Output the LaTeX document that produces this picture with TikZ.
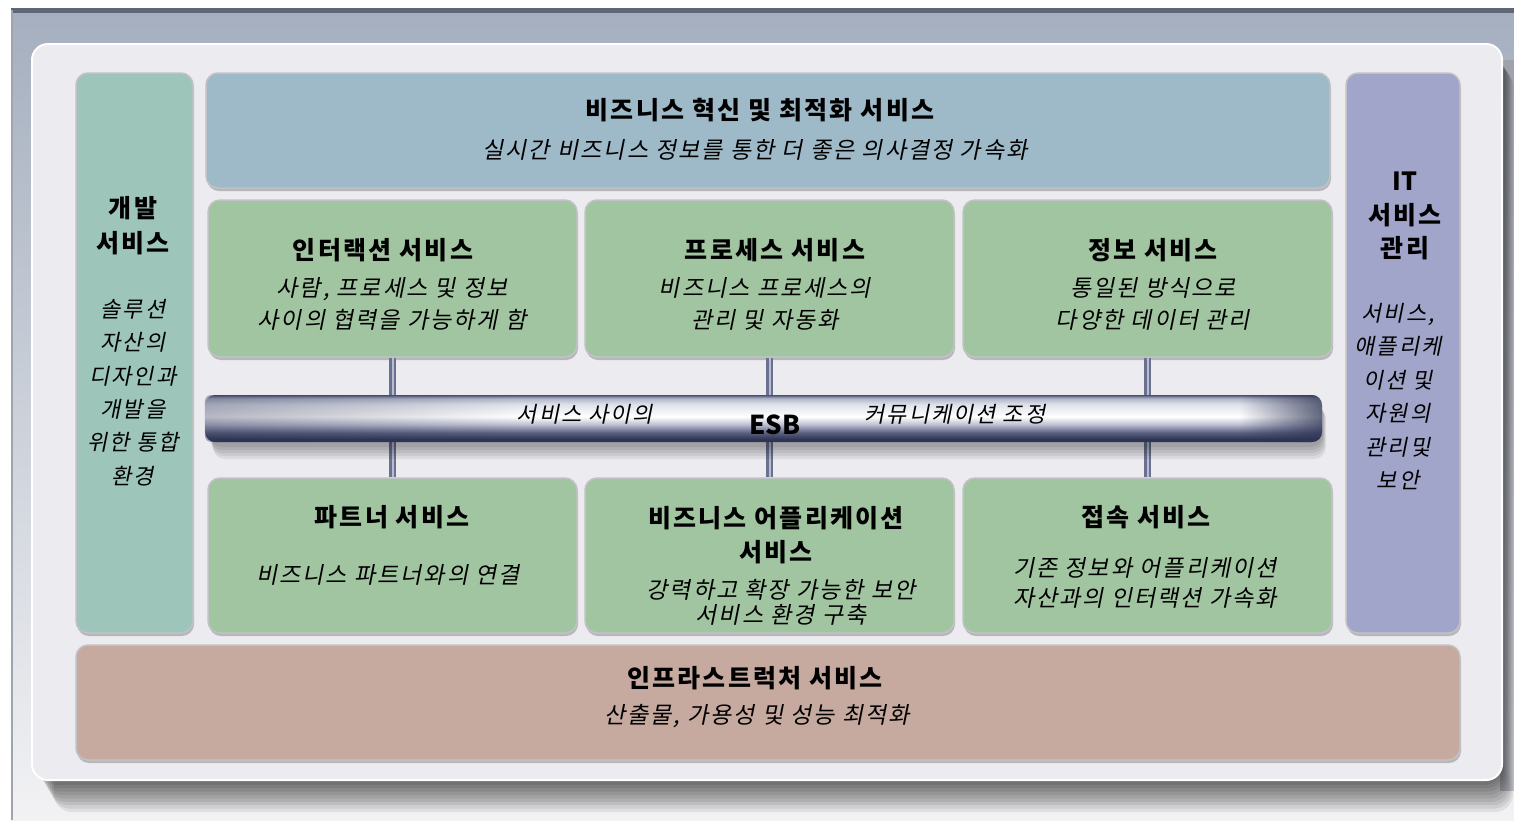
\documentclass[tikz,border=0pt]{standalone}
\usepackage{fontspec}
\setmainfont{Noto Sans CJK KR}[LetterSpace=9, ItalicFont={Noto Sans CJK KR}, ItalicFeatures={FakeSlant=0.2}]
\usetikzlibrary{shadows,fadings}
\definecolor{bgtop}{HTML}{A5AFBF}
\definecolor{bgbot}{HTML}{F2F2F4}
\definecolor{bgline}{HTML}{5F6776}
\definecolor{panelc}{HTML}{EBEBF0}
\definecolor{devc}{HTML}{9DC5BA}
\definecolor{topc}{HTML}{9EB9C7}
\definecolor{itc}{HTML}{A0A5C9}
\definecolor{grn}{HTML}{A2C5A1}
\definecolor{infc}{HTML}{C6A99F}
\definecolor{boxline}{HTML}{C2C2C6}
\definecolor{conndark}{HTML}{6A7090}
\definecolor{connlight}{HTML}{B8BCCE}
\definecolor{tubedark}{HTML}{2E3454}
\definecolor{tubenavy}{HTML}{5A6080}
\definecolor{tubemid}{HTML}{C0C2D4}
\definecolor{tubelight}{HTML}{E0E2EA}
\definecolor{tubetop}{HTML}{4A5070}
\definecolor{tubeup}{HTML}{B0B4C8}
\definecolor{rshadow}{HTML}{5E6472}
\pgfdeclareverticalshading{tube}{100bp}{color(0bp)=(tubedark); color(25bp)=(tubedark); color(28bp)=(tubedark); color(35bp)=(tubenavy); color(44bp)=(tubemid); color(52bp)=(white); color(65bp)=(tubelight); color(71.5bp)=(tubeup); color(75bp)=(tubetop); color(100bp)=(tubetop)}
\tikzfading[name=fadeleft, left color=transparent!0, right color=transparent!100]
\tikzfading[name=faderight, left color=transparent!100, right color=transparent!0]
\tikzset{
  box/.style={rounded corners=12, inner sep=0, draw=boxline, line width=1.5,
    drop shadow={shadow xshift=1pt, shadow yshift=-3pt, fill=black, opacity=0.22}},
  ttl/.style={font=\fontsize{25}{34}\selectfont\bfseries, inner sep=0, align=center},
  sub/.style={font=\fontsize{23}{32}\selectfont\itshape, inner sep=0, align=center},
  side/.style={font=\fontsize{22}{33.4}\selectfont\itshape, inner sep=0, align=center},
  conn/.style={draw=conndark, line width=2.5, double=connlight, double distance=2},
}
\begin{document}
\begin{tikzpicture}[x=1pt,y=-1pt]
\useasboundingbox (0,0) rectangle (1514,823);
\fill[white] (0,0) rectangle (1514,823);
% outer background
\shade[top color=bgtop, bottom color=bgbot] (11,10) rectangle (1514,820);
\fill[bgline] (11,8) rectangle (1514,13);
\fill[bgline!60] (11,10) rectangle (13,820);
% right dark shadow band
\shade[top color=rshadow!60, bottom color=rshadow!40] (1500,60) rectangle (1514,790);
% panel shadow
\foreach \i in {1,...,10}
  \fill[black, opacity=0.075, rounded corners=18] (34+2*\i,48+2*\i) rectangle (1500+1.3*\i,778+3.4*\i);
% panel
\node[rounded corners=16, fill=panelc, draw=white, line width=2, inner sep=0,
  minimum width=1470, minimum height=736] (panel) at (767,412) {};

% main boxes
\node[box, fill=devc, minimum width=117, minimum height=560] (dev) at (134.5,353) {};
\node[box, fill=topc, minimum width=1124, minimum height=115] (top) at (768,130.5) {};
\node[box, fill=itc, minimum width=114, minimum height=560] (it) at (1403,353) {};
\node[box, fill=infc, minimum width=1384, minimum height=115] (infra) at (768,702.5) {};

\node[box, fill=grn, minimum width=369, minimum height=157] (r1a) at (392.5,278.5) {};
\node[box, fill=grn, minimum width=369, minimum height=157] (r1b) at (769.5,278.5) {};
\node[box, fill=grn, minimum width=369, minimum height=157] (r1c) at (1147.5,278.5) {};
\node[box, fill=grn, minimum width=369, minimum height=155] (r2a) at (392.5,555.5) {};
\node[box, fill=grn, minimum width=369, minimum height=155] (r2b) at (769.5,555.5) {};
\node[box, fill=grn, minimum width=369, minimum height=155] (r2c) at (1147.5,555.5) {};

% connectors
\draw[conn] (r1a.south) -- (r2a.north);
\draw[conn] (r1b.south) -- (r2b.north);
\draw[conn] (r1c.south) -- (r2c.north);

% ESB tube
\foreach \i in {1,...,5}
  \fill[black, opacity=0.07, rounded corners=12] (208+\i,400+1.5*\i) rectangle (1322+0.8*\i,444+3*\i);
\node[rounded corners=10, shading=tube, inner sep=0, minimum width=1117, minimum height=47] (esb) at (763.5,418.5) {};
\fill[tubedark, opacity=0.35, path fading=fadeleft, rounded corners=6] (205,395) rectangle (520,442);
\fill[tubedark, opacity=0.75, path fading=faderight, rounded corners=10] (1240,395) rectangle (1322,442);

% texts
\node[ttl] (toptitle) at (760,110) {비즈니스 혁신 및 최적화 서비스};
\node[sub] (topsub) at (755,150) {실시간 비즈니스 정보를 통한 더 좋은 의사결정 가속화};

\node[ttl, font=\fontsize{25}{35}\selectfont\bfseries] (devtitle) at (133,226) {개발\\서비스};
\node[side] (devsub) at (133,392.5) {솔루션\\자산의\\디자인과\\개발을\\위한 통합\\환경};

\node[ttl, font=\fontsize{25}{33.5}\selectfont\bfseries] (ittitle) at (1405,216) {{\addfontfeature{LetterSpace=0}IT}\\서비스\\관리};
\node[side] (itsub) at (1398,396.5) {서비스,\\애플리케\\이션 및\\자원의\\관리및\\보안};

\node[ttl] (t1a) at (383,250) {인터랙션 서비스};
\node[sub] (s1a) at (392,304) {사람, 프로세스 및 정보\\사이의 협력을 가능하게 함};
\node[ttl] (t1b) at (775,250) {프로세스 서비스};
\node[sub] (s1b) at (765,304) {비즈니스 프로세스의\\관리 및 자동화};
\node[ttl] (t1c) at (1153,250) {정보 서비스};
\node[sub] (s1c) at (1153,304) {통일된 방식으로\\다양한 데이터 관리};

\node[sub, font=\fontsize{22}{30}\selectfont\itshape] (esbl) at (585,414) {서비스 사이의};
\node[ttl, font=\fontsize{26}{30}\selectfont\bfseries\addfontfeature{LetterSpace=0}] (esbt) at (775,425) {ESB};
\node[sub, font=\fontsize{22}{30}\selectfont\itshape] (esbr) at (955,414) {커뮤니케이션 조정};

\node[ttl] (t2a) at (392,517) {파트너 서비스};
\node[sub] (s2a) at (388,575) {비즈니스 파트너와의 연결};
\node[ttl] (t2b) at (776,535) {비즈니스 어플리케이션\\서비스};
\node[sub, font=\fontsize{23}{25}\selectfont\itshape] (s2b) at (781,602.5) {강력하고 확장 가능한 보안\\서비스 환경 구축};
\node[ttl] (t2c) at (1146,517) {접속 서비스};
\node[sub, font=\fontsize{23}{30}\selectfont\itshape] (s2c) at (1145,583) {기존 정보와 어플리케이션\\자산과의 인터랙션 가속화};

\node[ttl] (tinf) at (755,678) {인프라스트럭처 서비스};
\node[sub] (sinf) at (757,716) {산출물, 가용성 및 성능 최적화};
\end{tikzpicture}
\end{document}
